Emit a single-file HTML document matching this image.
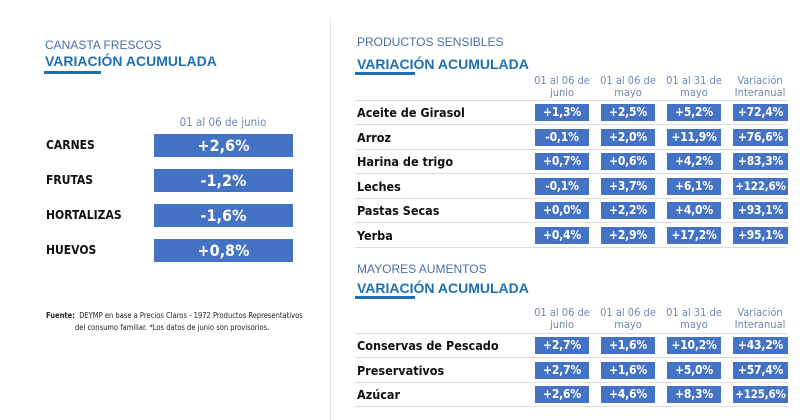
<!DOCTYPE html>
<html><head><meta charset="utf-8"><style>
body{margin:0;width:800px;height:420px;background:#fff;overflow:hidden;position:relative;font-family:"Liberation Sans",sans-serif}
.a{position:absolute;white-space:nowrap}
.sub{color:#4a6fa5;font-size:12px}
.ttl{color:#1f6fb0;font-size:14px;font-weight:bold}
.ul{position:absolute;height:3px;background:#1f6fb0}
.box{position:absolute;background:#4472c4;color:#fff;font-weight:bold;text-align:center;font-family:"DejaVu Sans Condensed","Liberation Sans",sans-serif}
.lbl{position:absolute;font-weight:bold;color:#111;font-family:"DejaVu Sans Condensed","Liberation Sans",sans-serif}
.hd{position:absolute;color:#6f87b0;font-size:11px;text-align:center;line-height:12px;width:70px;font-family:"DejaVu Sans Condensed","Liberation Sans",sans-serif;white-space:nowrap}
.ln{position:absolute;height:1px;background:#dcdcdc;left:355px;width:432px}
</style></head><body>
<div class="a" style="left:330px;top:18px;width:1px;height:402px;background:#e6e6e6"></div>
<div class="a sub" style="left:45px;top:38px">CANASTA FRESCOS</div>
<div class="a ttl" style="left:45px;top:53px">VARIACIÓN ACUMULADA</div>
<div class="ul" style="left:44px;top:71px;width:57px"></div>
<div class="hd" style="left:163px;top:116px;width:120px;font-size:11.5px">01 al 06 de junio</div>
<div id="left"></div>
<div class="a" style="left:46px;top:310px;font-size:7.5px;color:#222;font-family:'DejaVu Sans Condensed',sans-serif;line-height:12px"><b>Fuente:</b>&nbsp; DEYMP en base a Precios Claros - 1972 Productos Representativos<br><span style="padding-left:29px">del consumo familiar. *Los datos de junio son provisorios.</span></div>

<div class="a sub" style="left:357px;top:35px">PRODUCTOS SENSIBLES</div>
<div class="a ttl" style="left:357px;top:56px">VARIACIÓN ACUMULADA</div>
<div class="ul" style="left:355px;top:72px;width:60px"></div>
<div class="a sub" style="left:357px;top:262px">MAYORES AUMENTOS</div>
<div class="a ttl" style="left:357px;top:280px">VARIACIÓN ACUMULADA</div>
<div class="ul" style="left:355px;top:296px;width:60px"></div>
<div id="right"></div>
<script>
const leftCats=["CARNES","FRUTAS","HORTALIZAS","HUEVOS"];
const leftVals=["+2,6%","-1,2%","-1,6%","+0,8%"];
const colHeaders=[["01 al 06 de","junio"],["01 al 06 de","mayo"],["01 al 31 de","mayo"],["Variación","Interanual"]];
const sensCats=["Aceite de Girasol","Arroz","Harina de trigo","Leches","Pastas Secas","Yerba"];
const sensVals=[["+1,3%","+2,5%","+5,2%","+72,4%"],["-0,1%","+2,0%","+11,9%","+76,6%"],["+0,7%","+0,6%","+4,2%","+83,3%"],["-0,1%","+3,7%","+6,1%","+122,6%"],["+0,0%","+2,2%","+4,0%","+93,1%"],["+0,4%","+2,9%","+17,2%","+95,1%"]];
const aumCats=["Conservas de Pescado","Preservativos","Azúcar"];
const aumVals=[["+2,7%","+1,6%","+10,2%","+43,2%"],["+2,7%","+1,6%","+5,0%","+57,4%"],["+2,6%","+4,6%","+8,3%","+125,6%"]];
const L=document.getElementById('left');
leftCats.forEach((c,i)=>{
 const y=134+i*35;
 const l=document.createElement('div');l.className='lbl';l.style.cssText=`left:46px;top:${y+4}px;font-size:12px`;l.textContent=c;
 
 
 L.appendChild(l);
 const b=document.createElement('div');b.className='box';b.style.cssText=`left:154px;top:${y}px;width:139px;height:23px;line-height:23px;font-size:16px`;b.textContent=leftVals[i];
 
 
 L.appendChild(b);
});
const R=document.getElementById('right');
function table(cats,vals,hy,ry){
 colHeaders.forEach((h,j)=>{
  const d=document.createElement('div');d.className='hd';d.style.cssText=`left:${527+j*66}px;top:${hy}px`;d.innerHTML=h[0]+'<br>'+h[1];
  
  
  R.appendChild(d);
 });
 const l0=document.createElement('div');l0.className='ln';l0.style.top=(ry-4)+'px';
 
 
 R.appendChild(l0);
 cats.forEach((c,i)=>{
  const y=ry+i*24.5;
  const l=document.createElement('div');l.className='lbl';l.style.cssText=`left:357px;top:${y+1}px;font-size:12.5px`;l.textContent=c;
  
  
  R.appendChild(l);
  vals[i].forEach((v,j)=>{
   const b=document.createElement('div');b.className='box';b.style.cssText=`left:${535+j*66}px;top:${y}px;width:${j==3?55:54}px;height:17px;line-height:17px;font-size:${v.length>6?11.5:12}px;letter-spacing:-0.2px`;b.textContent=v;
   
   
   R.appendChild(b);
  });
  const ln=document.createElement('div');ln.className='ln';ln.style.top=(y+20)+'px';
  
  
  R.appendChild(ln);
 });
}
table(sensCats,sensVals,75,104);
table(aumCats,aumVals,307,337);
</script>
</body></html>
